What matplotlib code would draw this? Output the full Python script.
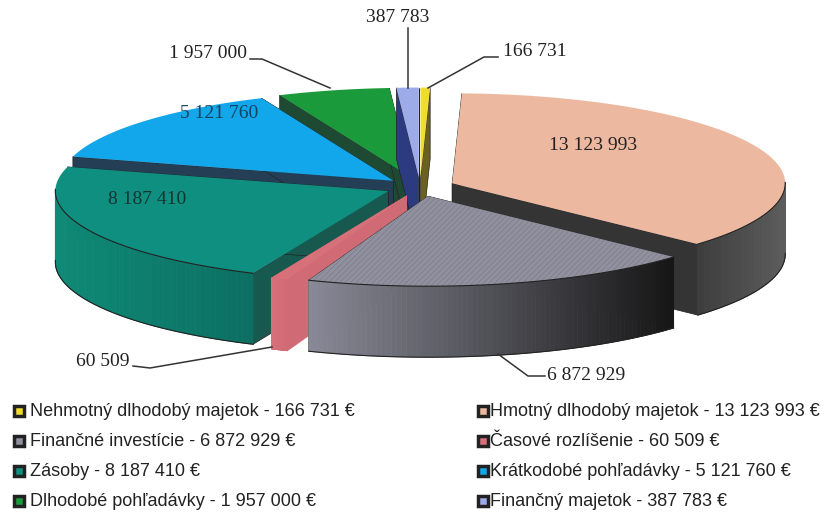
import numpy as np
import matplotlib
matplotlib.use("Agg")
import matplotlib.pyplot as plt
from matplotlib.patches import Polygon

# Data, clockwise from 12 o'clock
names = ["Nehmotný dlhodobý majetok", "Hmotný dlhodobý majetok", "Finančné investície",
         "Časové rozlíšenie", "Zásoby", "Krátkodobé pohľadávky",
         "Dlhodobé pohľadávky", "Finančný majetok"]
values = [166731, 13123993, 6872929, 60509, 8187410, 5121760, 1957000, 387783]
top_colors = ["#efdc2e", "#edb8a0", "#90909e", "#d8707a", "#0e8f80", "#12a6ea", "#1b9a3c", "#9dabe8"]
wall_left = ["#b8a820", "#3c3c3c", "#8a8a98", "#d8707a", "#0e8a76", "#1a4a60", "#1c4f38", "#3a4a90"]
wall_right = ["#b8a820", "#5c5c5c", "#161616", "#d06a74", "#0c6f62", "#1a4a60", "#1c4f38", "#3a4a90"]
side_colors = ["#6a6020", "#343434", "#555560", "#d06a74", "#17594f", "#243f55", "#1e4a34", "#2c3a80"]
draw_order = [6, 7, 0, 5, 1, 4, 3, 2]

CX, CY = 420, 187
RX, RY = 333, 90
DEPTH = 71
EXPLODE = 0.105

plt.rcParams["hatch.linewidth"] = 0.4
fmt = lambda v: f"{v:,}".replace(",", " ")


def pt(theta, ox, oy):
    t = np.radians(theta)
    return ox + RX * np.sin(t), oy - RY * np.cos(t)


def wall_color(c1, c2, f):
    a = np.array(matplotlib.colors.to_rgb(c1))
    b = np.array(matplotlib.colors.to_rgb(c2))
    return a + (b - a) * f


angles = np.array(values) / sum(values) * 360
# the tiniest slice is drawn wider than its share, as in the original
angles[angles < 1] = 3.0
angles = angles / angles.sum() * 360
stops = np.concatenate([[0], np.cumsum(angles)])

fig = plt.figure(figsize=(8.29, 5.15), dpi=100)
ax = fig.add_axes([0, 0, 1, 1])
ax.set_xlim(0, 829)
ax.set_ylim(515, 0)
ax.axis("off")

for i in draw_order:
    a0, a1 = stops[i], stops[i + 1]
    mid = np.radians((a0 + a1) / 2)
    ox = CX + EXPLODE * RX * np.sin(mid)
    oy = CY - EXPLODE * RY * np.cos(mid)
    th = np.linspace(a0, a1, 80)
    xs, ys = pt(th, ox, oy)

    # radial side walls
    for a in (a0, a1):
        x, y = pt(a, ox, oy)
        ax.add_patch(Polygon([(ox, oy), (x, y), (x, y + DEPTH), (ox, oy + DEPTH)],
                             fc=side_colors[i], ec=side_colors[i] if i == 3 else "#222222", lw=0.5))

    # front facing part of the rim
    front = np.cos(np.radians(th)) < 0.02
    if front.any():
        fx, fy = xs[front], ys[front]
        n = len(fx)
        for k in range(n - 1):
            # colour runs from left to right along the rim
            f = (fx[k] - fx.min()) / max(fx.max() - fx.min(), 1)
            ax.add_patch(Polygon([(fx[k], fy[k]), (fx[k + 1], fy[k + 1]),
                                  (fx[k + 1], fy[k + 1] + DEPTH), (fx[k], fy[k] + DEPTH)],
                                 fc=wall_color(wall_left[i], wall_right[i], f),
                                 ec=wall_color(wall_left[i], wall_right[i], f), lw=0.6))
        if i != 3:
            ax.plot(fx, fy, color="#222222", lw=0.8)
            ax.plot(fx, fy + DEPTH, color="#222222", lw=0.8)

    # top face
    top = np.column_stack([np.r_[ox, xs], np.r_[oy, ys]])
    ax.add_patch(Polygon(top, fc=top_colors[i], ec="none"))
    if i == 2:
        ax.add_patch(Polygon(top, fc="none", ec="#777785", hatch="//////", lw=0))

# labels on and around the pie
serif = dict(family="Liberation Serif", fontsize=14, color="#222222", va="center")
ax.text(593, 145, fmt(values[1]), ha="center", **serif)
ax.text(147, 200, fmt(values[4]), ha="center", **{**serif, "color": "#12352f"})
ax.text(219, 113, fmt(values[5]), ha="center", **{**serif, "color": "#12435f"})
ax.text(398, 17, fmt(values[7]), ha="center", **serif)
ax.text(503, 52, fmt(values[0]), ha="left", **serif)
ax.text(247, 53, fmt(values[6]), ha="right", **serif)
ax.text(130, 362, fmt(values[3]), ha="right", **serif)
ax.text(547, 376, fmt(values[2]), ha="left", **serif)

leaders = [([408, 408], [28, 88]), ([498, 484, 428], [57, 57, 88]),
           ([250, 262, 330], [59, 59, 88]), ([133, 150, 272], [366, 368, 347]),
           ([545, 528, 498], [376, 376, 354])]
for lx, ly in leaders:
    ax.plot(lx, ly, color="#333333", lw=1.1)

# legend in two columns
rows = [411, 441, 471, 501]
for k, i in enumerate(range(0, 8, 2)):
    for col, (mx, tx) in enumerate([(19, 30), (483, 490)]):
        j = i + col
        ax.plot(mx, rows[k], "s", ms=7, mfc=top_colors[j], mec="#222222", mew=2.5)
        ax.text(tx, rows[k], f"{names[j]} - {fmt(values[j])} €", family="Liberation Sans",
                fontsize=13, color="#222222", va="center", ha="left")

fig.savefig("out.png", dpi=100)
